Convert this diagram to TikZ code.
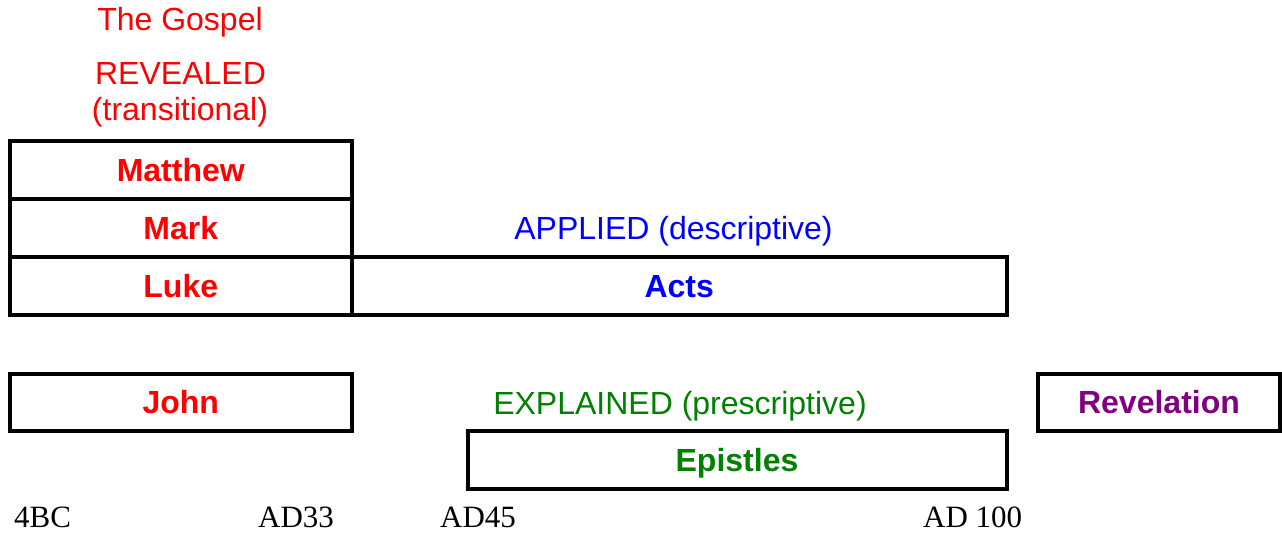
\documentclass[tikz,border=0pt]{standalone}
\usepackage{fontspec}
\setmainfont{Liberation Serif}
\setsansfont{Liberation Sans}
\definecolor{gospelred}{RGB}{255,0,0}
\definecolor{actsblue}{RGB}{0,0,255}
\definecolor{epgreen}{RGB}{0,128,0}
\definecolor{revpurple}{RGB}{128,0,128}
\begin{document}
\begin{tikzpicture}[x=1pt,y=-1pt,
  bookbox/.style={draw=black,line width=4pt,rectangle,inner sep=0pt,outer sep=0pt,
    text height=22.8pt,text depth=0pt,
    font=\sffamily\bfseries\fontsize{32}{36}\selectfont},
  label/.style={inner sep=0pt,anchor=base,font=\sffamily\fontsize{32}{36}\selectfont},
  year/.style={inner sep=0pt,anchor=base west,font=\rmfamily\fontsize{31}{36}\selectfont}]
\useasboundingbox (0,0) rectangle (1282,535);
% headings
\node[label,text=gospelred] (gospel) at (180,30.7) {The Gospel};
\node[label,text=gospelred] (revealed) at (180.5,84.5) {REVEALED};
\node[label,text=gospelred] (trans) at (180,120) {(transitional)};
\node[label,text=actsblue] (applied) at (673.5,239.3) {APPLIED (descriptive)};
\node[label,text=epgreen] (explained) at (680,414) {EXPLAINED (prescriptive)};
% boxes
\node[bookbox,text=gospelred,minimum width=342.5pt,minimum height=58.5pt] (matthew) at (180.75,169.75) {Matthew};
\node[bookbox,text=gospelred,minimum width=342.5pt,minimum height=58pt] (mark) at (180.75,228) {Mark};
\node[bookbox,text=gospelred,minimum width=342.5pt,minimum height=57.5pt] (luke) at (180.75,285.75) {Luke};
\node[bookbox,text=actsblue,minimum width=654.5pt,minimum height=57.5pt] (acts) at (679.25,285.75) {Acts};
\node[bookbox,text=gospelred,minimum width=342.5pt,minimum height=57pt] (john) at (180.75,402) {John};
\node[bookbox,text=epgreen,minimum width=539pt,minimum height=58.5pt] (epistles) at (737,459.75) {Epistles};
\node[bookbox,text=revpurple,minimum width=242pt,minimum height=57pt] (revelation) at (1159,402) {Revelation};
% years
\node[year] (bc4) at (14,527) {4BC};
\node[year] (ad33) at (258,527) {AD33};
\node[year] (ad45) at (440,527) {AD45};
\node[year] (ad100) at (923,527) {AD 100};
\end{tikzpicture}
\end{document}
